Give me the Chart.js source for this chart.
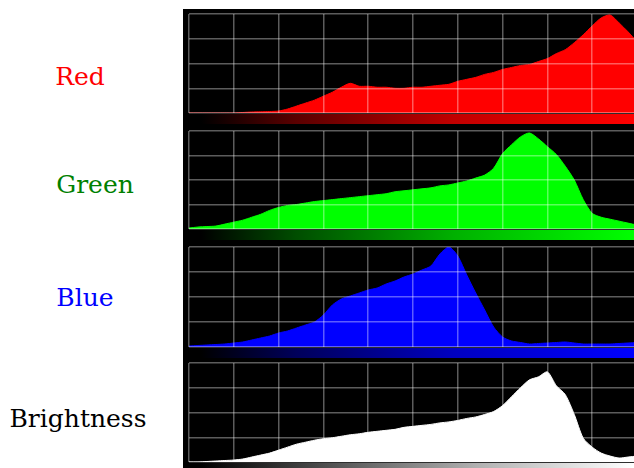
<!DOCTYPE html>
<html>
<head>
<meta charset="utf-8">
<script src="https://cdn.jsdelivr.net/npm/chart.js@4"></script>
<style>
  html, body { margin: 0; padding: 0; width: 634px; height: 468px; overflow: hidden; background: #fff; }
  #panel { position: absolute; left: 183px; top: 9px; width: 451px; height: 459px; background: #000; }
  canvas { position: absolute; }
  .lbl { position: absolute; width: 200px; text-align: center; font-family: "DejaVu Serif", serif; font-size: 25px; line-height: 25px; white-space: nowrap; }
  .band { position: absolute; left: 183px; width: 451px; }
</style>
</head>
<body>
<div id="panel"></div>
<div class="band" style="top:114px;height:10px;background:linear-gradient(to right,#000 4%,#5a0000 25%,#c00000 60%,#ff0000 100%);"></div>
<div class="band" style="top:230px;height:10px;background:linear-gradient(to right,#000 4%,#004d00 25%,#00b000 60%,#00ff00 100%);"></div>
<div class="band" style="top:348px;height:10px;background:linear-gradient(to right,#000 4%,#00005a 25%,#0000c0 60%,#0000ff 100%);"></div>
<div class="band" style="top:463px;height:6px;background:linear-gradient(to right,#000 4%,#4a4a4a 30%,#b0b0b0 65%,#ffffff 100%);"></div>

<div class="lbl" style="left:-20px;top:64px;color:#ff0000;">Red</div>
<div class="lbl" style="left:-5px;top:172px;color:#008000;">Green</div>
<div class="lbl" style="left:-15px;top:285px;color:#0000ff;">Blue</div>
<div class="lbl" style="left:-22px;top:406px;color:#000000;">Brightness</div>

<canvas id="cRed"></canvas>
<canvas id="cGreen"></canvas>
<canvas id="cBlue"></canvas>
<canvas id="cBright"></canvas>

<script>
// Tonal levels (0 = shadows, 100 = highlights)
const levels = [0,2,4,6,8,10,12,14,16,18,20,22,24,26,28,30,32,34,36,38,40,42,44,46,48,50,52,54,56,58,60,62,64,66,68,70,72,74,76,78,80,82,84,86,88,90,92,94,96,98,100];

// Relative pixel counts per channel (0..100 of panel height)
const redValues = [0,0,0,0,0,0,0.5,1,1.2,1.5,2,4,7,10,13,17,21,26,30,27,27,26,26,25,25,26,26,27,28,29,32,34,36,39,41,44,46,48,49,52,55,60,64,71,79,88,96,99,91,82,72];
const greenValues = [1,2,2.5,3,5,7,9,12,15,19,22,24,25,26.5,28,29,30,31,32,33,34,35,36,38,39,40,41,42,44,45,47,49,52,55,62,77,86,94,98,92,84,76,64,50,30,16,12,10,8,6,4];
const blueValues = [1,1.5,2,2.5,3,4,5,7,9,11,14,16,19,22,25,32,42,48,51,54,57,59,63,66,70,73,77,81,93,100,91,72,54,37,20,10,6,4.5,3,3.5,4,4.5,5,4,3,3,3,3,3.5,4,4.5];
const brightValues = [0,0,0.5,1,1.5,2,3,5,7,9,12,15,18,20,22,23.5,24.5,26,27.5,28.5,30,31,32,33,35,36,37,38,39.5,40.5,42,44,45.5,48,51,57,66,75,83,86,91,77,68,48,24,15,9,6,4,5,6];

// Grid tick layout
const xTicks = [0,10,20,30,40,50,60,70,80,90,100];
const yTicks = [0,25,50,75,100];

const PAD = 2;
function makeChart(id, top, height, values, color) {
  const cv = document.getElementById(id);
  const w = 448 + PAD * 2, h = height + PAD * 2;
  cv.width = w; cv.height = h;
  cv.style.left = (189 - PAD) + 'px';
  cv.style.top = (top - PAD) + 'px';
  cv.style.width = w + 'px'; cv.style.height = h + 'px';
  const gridColor = 'rgba(255,255,255,0.36)';
  return new Chart(cv, {
    type: 'line',
    data: {
      datasets: [{
        data: levels.map((x, i) => ({ x: x, y: values[i] })),
        borderColor: color,
        backgroundColor: color,
        borderWidth: 1,
        pointRadius: 0,
        fill: 'origin',
        tension: 0.25
      }]
    },
    options: {
      responsive: false,
      animation: false,
      events: [],
      layout: { padding: PAD },
      plugins: { legend: { display: false }, tooltip: { enabled: false } },
      scales: {
        x: {
          type: 'linear', min: 0, max: 100,
          afterBuildTicks: s => { s.ticks = xTicks.map(v => ({ value: v })); },
          ticks: { display: false },
          grid: { color: gridColor, lineWidth: 1.5, drawTicks: false, z: 1 },
          border: { display: false }
        },
        y: {
          type: 'linear', min: 0, max: 100,
          afterBuildTicks: s => { s.ticks = yTicks.map(v => ({ value: v })); },
          ticks: { display: false },
          grid: { color: gridColor, lineWidth: 1.5, drawTicks: false, z: 1 },
          border: { display: false }
        }
      }
    }
  });
}

makeChart('cRed', 14, 99, redValues, '#ff0000');
makeChart('cGreen', 131, 98, greenValues, '#00ff00');
makeChart('cBlue', 247, 100, blueValues, '#0000ff');
makeChart('cBright', 363, 99, brightValues, '#ffffff');
</script>
</body>
</html>
